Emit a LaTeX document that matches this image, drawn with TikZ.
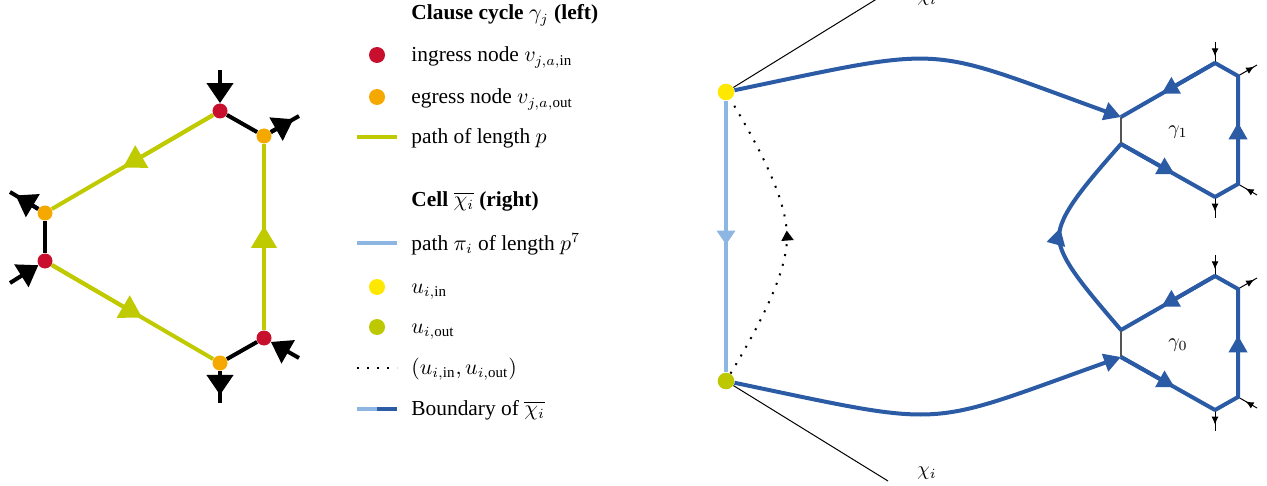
\documentclass[tikz,border=0pt]{standalone}
\usepackage{fontspec}
\setmainfont{Liberation Serif}
\usetikzlibrary{arrows.meta,decorations.markings}
\definecolor{cred}{HTML}{C8102E}
\definecolor{corange}{HTML}{F5A800}
\definecolor{clime}{HTML}{BFCA00}
\definecolor{colive}{HTML}{BDC800}
\definecolor{cyellow}{HTML}{FFE800}
\definecolor{clblue}{HTML}{8DB6E3}
\definecolor{cdblue}{HTML}{2B5BA5}
\definecolor{cgray}{HTML}{555555}
\tikzset{
  hdot/.style={circle,inner sep=0pt,minimum size=7.5pt,draw=none},
  udot/.style={circle,inner sep=0pt,minimum size=8.3pt,draw=none},
  ldot/.style={circle,inner sep=0pt,minimum size=8pt,draw=none},
  arrowat/.style 2 args={postaction={decorate},decoration={markings,mark=at position #1 with {\arrow{#2}}}},
  blk/.style={line width=2pt,draw=black},
  gline/.style={line width=2pt,draw=clime},
  lbline/.style={line width=2pt,draw=clblue},
  bline/.style={line width=2pt,draw=cdblue},
  dbline/.style={line width=2pt,draw=cdblue},
  gthin/.style={line width=0.7pt,draw=cgray},
  sthin/.style={line width=0.5pt,draw=black},
  thinblk/.style={line width=0.5pt,draw=black},
  dotline/.style={line width=1pt,draw=black,dash pattern=on 1pt off 4pt},
  lt/.style={anchor=base west,inner sep=0pt,font=\fontsize{10.7}{12.8}\selectfont},
  lh/.style={anchor=base west,inner sep=0pt,font=\fontsize{10.7}{12.8}\selectfont\bfseries},
}
\begin{document}
\begin{tikzpicture}[x=0.5pt,y=-0.5pt,font=\fontsize{10}{12}\selectfont]
\useasboundingbox (0,0) rectangle (1267,486);
% ---------- left clause cycle ----------
\node[hdot,fill=cred] (r1) at (220,111) {};
\node[hdot,fill=corange] (o1) at (264,136) {};
\node[hdot,fill=corange] (o2) at (45,213) {};
\node[hdot,fill=cred] (r2) at (45,261) {};
\node[hdot,fill=cred] (r3) at (264,338) {};
\node[hdot,fill=corange] (o3) at (220,363) {};
\draw[blk] (r1) -- (o1);
\draw[blk] (o2) -- (r2);
\draw[blk] (r3) -- (o3);
\draw[gline] (r1) -- (o2);
\draw[gline] (r2) -- (o3);
\draw[gline] (r3) -- (o1);
\path (r1) -- (o2) coordinate[pos=0.56] (gm1);
\path (r2) -- (o3) coordinate[pos=0.56] (gm2);
\path (r3) -- (o1) coordinate[pos=0.56] (gm3);
\draw[gline,-{Triangle[length=11pt,width=12.5pt]}] (r1) -- (gm1);
\draw[gline,-{Triangle[length=11pt,width=12.5pt]}] (r2) -- (gm2);
\draw[gline,-{Triangle[length=11pt,width=12.5pt]}] (r3) -- (gm3);
\coordinate (x1) at (220,70);
\coordinate (x2) at (299,116);
\coordinate (x3) at (10,192);
\coordinate (x4) at (10,283);
\coordinate (x5) at (299,358);
\coordinate (x6) at (220,403);
\path (o1) -- (x2) coordinate[pos=0.8] (xm2);
\path (o2) -- (x3) coordinate[pos=0.8] (xm3);
\path (o3) -- (x6) coordinate[pos=0.75] (xm6);
\draw[blk,-{Triangle[length=10pt,width=13pt]}] (x1) -- (r1);
\draw[blk] (o1) -- (x2);
\draw[blk,-{Triangle[length=10pt,width=13pt]}] (o1) -- (xm2);
\draw[blk] (o2) -- (x3);
\draw[blk,-{Triangle[length=10pt,width=13pt]}] (o2) -- (xm3);
\draw[blk,-{Triangle[length=10pt,width=13pt]}] (x4) -- (r2);
\draw[blk,-{Triangle[length=10pt,width=13pt]}] (x5) -- (r3);
\draw[blk] (o3) -- (x6);
\draw[blk,-{Triangle[length=10pt,width=13pt]}] (o3) -- (xm6);
% ---------- legend ----------
\node[lh] (h1) at (411,20) {Clause cycle $\gamma_j$ (left)};
\node[ldot,fill=cred] (l1) at (377,55) {};
\node[lt] (t1) at (411,62) {ingress node $v_{j,a,\mathrm{in}}$};
\node[ldot,fill=corange] (l2) at (377,97) {};
\node[lt] (t2) at (411,104) {egress node $v_{j,a,\mathrm{out}}$};
\coordinate (l3a) at (357,137); \coordinate (l3b) at (397,137);
\draw[gline] (l3a) -- (l3b);
\node[lt] (t3) at (411,144) {path of length $p$};
\node[lh] (h2) at (411,206) {Cell $\overline{\chi_i}$ (right)};
\coordinate (l4a) at (357,243); \coordinate (l4b) at (397,243);
\draw[lbline] (l4a) -- (l4b);
\node[lt] (t4) at (411,250) {path $\pi_i$ of length $p^7$};
\node[ldot,fill=cyellow] (l5) at (377,287) {};
\node[lt] (t5) at (411,293) {$u_{i,\mathrm{in}}$};
\node[ldot,fill=colive] (l6) at (377,327) {};
\node[lt] (t6) at (411,333) {$u_{i,\mathrm{out}}$};
\coordinate (l7a) at (357,368); \coordinate (l7b) at (397,368);
\draw[dotline] (l7a) -- (l7b);
\node[lt] (t7) at (411,374) {$(u_{i,\mathrm{in}},u_{i,\mathrm{out}})$};
\coordinate (l8a) at (357,409); \coordinate (l8m) at (377,409); \coordinate (l8b) at (397,409);
\draw[lbline] (l8a) -- (l8m);
\draw[dbline] (l8m) -- (l8b);
\node[lt] (t8) at (411,415) {Boundary of $\overline{\chi_i}$};
% ---------- right cell ----------
\foreach \k/\dy in {1/0,0/213}{
  \begin{scope}[shift={(0,\dy)}]
    \coordinate (g\k tl) at (1121,117);
    \coordinate (g\k t) at (1215,63);
    \coordinate (g\k tr) at (1238,76);
    \coordinate (g\k br) at (1238,184);
    \coordinate (g\k b) at (1215,197);
    \coordinate (g\k bl) at (1121,144);
    \coordinate (g\k ti) at (1215,42);
    \coordinate (g\k to) at (1257,65);
    \coordinate (g\k bi) at (1257,195);
    \coordinate (g\k bo) at (1215,218);
    \draw[sthin,arrowat={0.68}{Latex[length=4pt,width=3.5pt]}] (g\k ti) -- (g\k t);
    \draw[sthin,arrowat={0.85}{Latex[length=4pt,width=3.5pt]}] (g\k tr) -- (g\k to);
    \draw[sthin,arrowat={0.6}{Latex[length=4pt,width=3.5pt]}] (g\k bi) -- (g\k br);
    \draw[sthin,arrowat={0.7}{Latex[length=4pt,width=3.5pt]}] (g\k b) -- (g\k bo);
    \draw[gthin] (g\k tl) -- (g\k bl);
    \draw[bline,line join=round] (g\k bl) -- (g\k b) -- (g\k br) -- (g\k tr) -- (g\k t) -- (g\k tl);
    \path (g\k bl) -- (g\k b) coordinate[pos=0.57] (g\k m1);
    \path (g\k br) -- (g\k tr) coordinate[pos=0.57] (g\k m2);
    \path (g\k t) -- (g\k tl) coordinate[pos=0.57] (g\k m3);
    \draw[bline,-{Triangle[length=8.5pt,width=9pt]}] (g\k bl) -- (g\k m1);
    \draw[bline,-{Triangle[length=8.5pt,width=9pt]}] (g\k br) -- (g\k m2);
    \draw[bline,-{Triangle[length=8.5pt,width=9pt]}] (g\k t) -- (g\k m3);
    \node (lab\k) at (1178,132) {$\gamma_\k$};
  \end{scope}
}
\node[udot,fill=cyellow] (uin) at (726,92) {};
\node[udot,fill=colive] (uout) at (726,381) {};
\coordinate (ct) at (888,-8);
\coordinate (cb) at (888,481);
\draw[thinblk] (uin) -- (ct);
\draw[thinblk] (uout) -- (cb);
\node (chit) at (927,-1) {$\chi_i$};
\node (chib) at (927,473) {$\chi_i$};
\draw[lbline,arrowat={0.53}{Triangle[length=7pt,width=9pt]}] (uin) -- (uout);
\coordinate (dm) at (787,237);
\draw[dotline,arrowat={0.52}{Triangle[length=5pt,width=6pt]}] (uout) .. controls (767,313) and (787,268) .. (dm) .. controls (787,205) and (767,160) .. (uin);
\draw[bline,-{Triangle[length=8.5pt,width=9pt]}] (uin) .. controls (951,45) and (922,45) .. (g1tl);
\draw[bline,-{Triangle[length=8.5pt,width=9pt]}] (uout) .. controls (951,428) and (922,428) .. (g0bl);
\coordinate (mc) at (1059,237);
\draw[bline,arrowat={0.54}{Triangle[length=8.5pt,width=9pt]}] (g0tl) .. controls (1085,288) and (1059,258) .. (mc) .. controls (1059,215) and (1085,185) .. (g1bl);
\end{tikzpicture}
\end{document}
